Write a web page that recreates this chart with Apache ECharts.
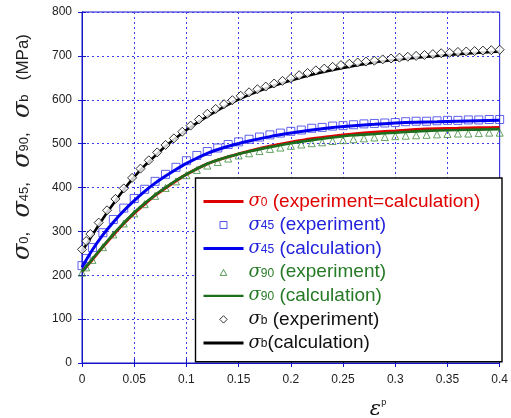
<!DOCTYPE html>
<html>
<head>
<meta charset="utf-8">
<script src="https://cdn.jsdelivr.net/npm/echarts@6.0.0/dist/echarts.min.js"></script>
<style>
html,body{margin:0;padding:0;background:#fff;}
#c{width:511px;height:418px;}
</style>
</head>
<body>
<div id="c"></div>
<script>
// ---- data ----
const xTicks = [0, 0.05, 0.1, 0.15, 0.2, 0.25, 0.3, 0.35, 0.4];
const yTicks = [0, 100, 200, 300, 400, 500, 600, 700, 800];

const calcStrain = [0,0.01,0.02,0.03,0.04,0.05,0.06,0.07,0.08,0.09,0.1,0.12,0.14,0.16,0.18,0.2,0.22,0.24,0.26,0.28,0.3,0.32,0.34,0.36,0.38,0.4];
const sigma0Calc  = [208,236,265,292,318,341,362,382,399,415,430,454,470,483,494,503,511,517,522,526,529,532,534,535,536,537];
const sigma45Calc = [218,258,292,321,347,370,391,410,426,441,455,478,494,506,516,524,531,537,541,544,547,549,550,551,552,553];
const sigma90Calc = [208,237,266,294,319,343,364,383,400,416,430,454,470,482,492,501,508,514,519,522,525,528,530,531,532,533];
const sigmaBCalc  = [254,292,329,363,395,424,450,472,494,513,531,562,589,611,629,644,657,668,677,685,691,696,700,704,707,710];

const expStrain = [0,0.004,0.01,0.02,0.03,0.04,0.05,0.06,0.07,0.08,0.09,0.1,0.11,0.12,0.13,0.14,0.15,0.16,0.17,0.18,0.19,0.2,0.21,0.22,0.23,0.24,0.25,0.26,0.27,0.28,0.29,0.3,0.31,0.32,0.33,0.34,0.35,0.36,0.37,0.38,0.39,0.4];
const sigma45Exp = [222,238,263,297,327,353,375,396,414,430,446,461,473,482,490,498,504,510,515,520,524,528,531,535,537,540,541,543,545,546,547,548,550,551,551,552,553,553,554,554,555,555];
const sigma90Exp = [206,218,235,264,293,318,341,362,381,399,414,428,440,450,458,466,473,478,483,488,491,495,498,501,503,506,508,510,512,514,515,517,518,519,520,521,522,523,523,524,525,525];

const expStrainB = [0,0.004,0.008,0.016,0.024,0.032,0.04,0.048,0.056,0.064,0.072,0.08,0.088,0.096,0.104,0.112,0.12,0.128,0.136,0.144,0.152,0.16,0.168,0.176,0.184,0.192,0.2,0.208,0.216,0.224,0.232,0.24,0.248,0.256,0.264,0.272,0.28,0.288,0.296,0.304,0.312,0.32,0.328,0.336,0.344,0.352,0.36,0.368,0.376,0.384,0.392,0.4];
const sigmaBExp = [259,278,294,320,348,374,398,422,443,462,480,497,512,527,541,555,568,579,590,599,609,617,624,630,637,643,649,656,661,667,671,675,679,682,685,687,689,692,694,696,698,700,702,704,706,707,709,710,711,712,713,714];

const legendTexts = {
  sig0:   ['r', '0',  ' (experiment=calculation)'],
  sig45e: ['b', '45', ' (experiment)'],
  sig45c: ['b', '45', ' (calculation)'],
  sig90e: ['g', '90', ' (experiment)'],
  sig90c: ['g', '90', ' (calculation)'],
  sigbe:  ['k', 'b',  ' (experiment)'],
  sigbc:  ['k', 'b',  '(calculation)']
};

// ---- styling ----
const C = { r: '#e00000', b: '#2323dc', g: '#267a26', k: '#111111' };
const lineRed = '#dd0000', lineBlue = '#0000ee', lineGreen = '#1b6e1b', lineBlack = '#000000';
const frame = '#1414c8', gridCol = '#3c3cee';
const sans = '"Liberation Sans", Arial, sans-serif';
const serif = '"DejaVu Serif", "Liberation Serif", serif';

const rich = {};
Object.keys(C).forEach(k => {
  rich['s' + k] = { fontFamily: serif, fontStyle: 'italic', fontSize: 18, color: C[k], lineHeight: 23.6 };
  rich['u' + k] = { fontFamily: sans, fontSize: 12, color: C[k], lineHeight: 23.6, verticalAlign: 'middle', padding: [2, 0, 0, 0] };
  rich['t' + k] = { fontFamily: sans, fontSize: 19, color: C[k], lineHeight: 23.6 };
});
function legendLabel(name) {
  const [k, sub, txt] = legendTexts[name];
  return '{s' + k + '|σ}{u' + k + '|' + sub + '}{t' + k + '|' + txt + '}';
}
const pair = (xs, ys) => xs.map((x, i) => [x, ys[i]]);

// legend icons (40 x 8 box)
const lineIcon3 = 'path://M0,2.5H40V5.5H0Z';
const lineIcon2 = 'path://M0,2.9H40V5.1H0Z';
const squareIcon = 'path://M0,0M40,8M16.5,0.5H23.5V7.5H16.5Z';
const triIcon = 'path://M0,0M40,8M20,1.2L23.3,7.2H16.7Z';
const diamondIcon = 'path://M0,0M40,8M20,0.3L23.7,4L20,7.7L16.3,4Z';

const chart = echarts.init(document.getElementById('c'), null, { renderer: 'canvas' });
chart.setOption({
  animation: false,
  backgroundColor: '#ffffff',
  grid: { left: 82, right: 7, top: 12, bottom: 55, show: true, borderColor: frame, borderWidth: 1, backgroundColor: 'transparent' },
  xAxis: [{
    type: 'value', min: xTicks[0], max: xTicks[xTicks.length - 1], interval: xTicks[1] - xTicks[0],
    axisLine: { show: true, lineStyle: { color: frame, width: 1 } },
    axisTick: { show: true, inside: true, length: 4, lineStyle: { color: frame } },
    axisLabel: { fontFamily: sans, fontSize: 12, color: '#222', margin: 11 },
    splitLine: { show: true, lineStyle: { color: gridCol, type: [2, 3], width: 1 } }
  }, {
    type: 'value', position: 'top', min: xTicks[0], max: xTicks[xTicks.length - 1], interval: xTicks[1] - xTicks[0],
    axisLine: { show: true, lineStyle: { color: frame } },
    axisTick: { show: true, inside: true, length: 4, lineStyle: { color: frame } },
    axisLabel: { show: false }, splitLine: { show: false }
  }],
  yAxis: [{
    type: 'value', min: yTicks[0], max: yTicks[yTicks.length - 1], interval: yTicks[1] - yTicks[0],
    axisLine: { show: true, lineStyle: { color: frame, width: 1 } },
    axisTick: { show: true, inside: true, length: 4, lineStyle: { color: frame } },
    axisLabel: { fontFamily: sans, fontSize: 12, color: '#222', margin: 10 },
    splitLine: { show: true, lineStyle: { color: gridCol, type: [2, 3], width: 1 } }
  }, {
    type: 'value', position: 'right', min: yTicks[0], max: yTicks[yTicks.length - 1], interval: yTicks[1] - yTicks[0],
    axisLine: { show: true, lineStyle: { color: frame } },
    axisTick: { show: true, inside: true, length: 4, lineStyle: { color: frame } },
    axisLabel: { show: false }, splitLine: { show: false }
  }],
  legend: {
    orient: 'vertical', left: 203, top: 189.6, padding: 0, itemGap: 0,
    itemWidth: 40, itemHeight: 8, symbolKeepAspect: true, selectedMode: false, z: 10,
    formatter: legendLabel,
    textStyle: { rich: rich, fontSize: 19, lineHeight: 23.6 },
    data: [
      { name: 'sig0',   icon: lineIcon3, itemStyle: { color: lineRed, borderWidth: 0 } },
      { name: 'sig45e', icon: squareIcon, itemStyle: { color: 'rgba(0,0,0,0)', borderColor: '#2b2be6', borderWidth: 1 } },
      { name: 'sig45c', icon: lineIcon3, itemStyle: { color: lineBlue, borderWidth: 0 } },
      { name: 'sig90e', icon: triIcon, itemStyle: { color: 'rgba(0,0,0,0)', borderColor: '#2f7f2f', borderWidth: 1 } },
      { name: 'sig90c', icon: lineIcon2, itemStyle: { color: lineGreen, borderWidth: 0 } },
      { name: 'sigbe',  icon: diamondIcon, itemStyle: { color: '#fff', borderColor: '#000', borderWidth: 1 } },
      { name: 'sigbc',  icon: lineIcon3, itemStyle: { color: lineBlack, borderWidth: 0 } }
    ]
  },
  graphic: [
    { type: 'rect', z: 8, shape: { x: 195.5, y: 178, width: 306.5, height: 183.7 },
      style: { fill: '#fff', stroke: '#000', lineWidth: 1.4 } },
    { type: 'text', x: 23, y: 147, rotation: Math.PI / 2, z: 10,
      style: {
        text: '{s|σ}{u|0}{t|,   }{s|σ}{u|45}{t|,   }{s|σ}{u|90}{t|,   }{s|σ}{u|b}{t|   (MPa)}',
        align: 'center', verticalAlign: 'middle', fill: '#222',
        rich: {
          s: { fontFamily: serif, fontStyle: 'italic', fontSize: 24, fill: '#222', lineHeight: 28 },
          u: { fontFamily: sans, fontSize: 13, fill: '#222', lineHeight: 28, verticalAlign: 'middle', padding: [3, 0, 0, 0] },
          t: { fontFamily: sans, fontSize: 17, fill: '#222', lineHeight: 28 }
        }
      } },
    { type: 'text', x: 378, y: 410, z: 10,
      style: {
        text: '{e|ε}{p|p}', align: 'center', verticalAlign: 'middle', fill: '#111',
        rich: {
          e: { fontFamily: serif, fontStyle: 'italic', fontSize: 21, fill: '#111', lineHeight: 24 },
          p: { fontFamily: sans, fontSize: 9, fill: '#111', lineHeight: 10, verticalAlign: 'top' }
        }
      } }
  ],
  series: [
    { name: 'sig0', type: 'line', data: pair(calcStrain, sigma0Calc), showSymbol: false, symbol: 'none', smooth: 0.3,
      color: lineRed, lineStyle: { color: lineRed, width: 3 }, z: 2 },
    { name: 'sig45e', type: 'scatter', data: pair(expStrain, sigma45Exp), symbol: 'rect', symbolSize: 8,
      itemStyle: { color: 'rgba(0,0,0,0)', borderColor: '#3a3ae8', borderWidth: 1 }, z: 3 },
    { name: 'sig45c', type: 'line', data: pair(calcStrain, sigma45Calc), showSymbol: false, symbol: 'none', smooth: 0.3,
      color: lineBlue, lineStyle: { color: lineBlue, width: 3 }, z: 4 },
    { name: 'sig90e', type: 'scatter', data: pair(expStrain, sigma90Exp), symbol: 'triangle', symbolSize: 7,
      itemStyle: { color: 'rgba(0,0,0,0)', borderColor: '#3f8c3f', borderWidth: 1 }, z: 3 },
    { name: 'sig90c', type: 'line', data: pair(calcStrain, sigma90Calc), showSymbol: false, symbol: 'none', smooth: 0.3,
      color: lineGreen, lineStyle: { color: lineGreen, width: 2.6 }, z: 4 },
    { name: 'sigbe', type: 'scatter', data: pair(expStrainB, sigmaBExp), symbol: 'diamond', symbolSize: 9,
      itemStyle: { color: '#fff', borderColor: '#000', borderWidth: 1 }, z: 6 },
    { name: 'sigbc', type: 'line', data: pair(calcStrain, sigmaBCalc), showSymbol: false, symbol: 'none', smooth: 0.3,
      color: lineBlack, lineStyle: { color: lineBlack, width: 2.6 }, z: 5 }
  ]
});
</script>
</body>
</html>
